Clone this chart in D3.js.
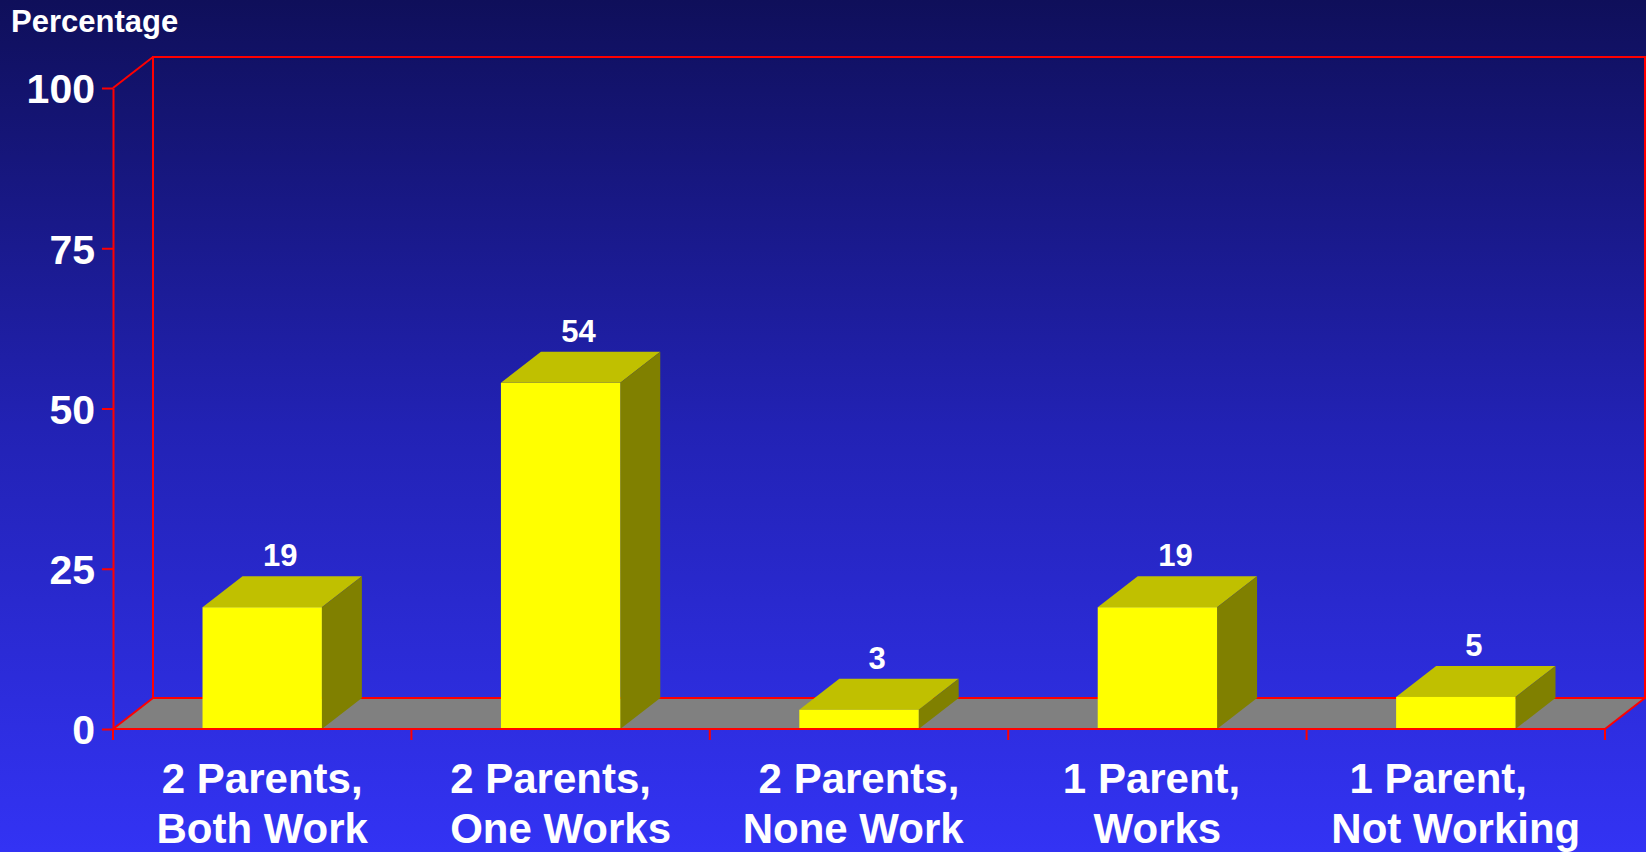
<!DOCTYPE html>
<html>
<head>
<meta charset="utf-8">
<script src="https://cdn.jsdelivr.net/npm/d3@7"></script>
<style>
  html, body { margin: 0; padding: 0; overflow: hidden; background: #1f1fa0; }
  svg { display: block; }
  text { font-family: "Liberation Sans", Arial, Helvetica, sans-serif; font-weight: bold; fill: #ffffff; }
</style>
</head>
<body>
<svg id="chart" width="1646" height="852"></svg>
<script>
// ---- data ----
const categories = [
  "2 Parents,\nBoth Work",
  "2 Parents,\u00a0\u2009\nOne Works",
  "2 Parents,\nNone Work\u00a0",
  "1 Parent,\u00a0\nWorks",
  "1 Parent,\u00a0\u00a0\u00a0\nNot Working"
];
const values = [19, 54, 3, 19, 5];
const yTicks = [0, 25, 50, 75, 100];
const yTitle = "Percentage";

// ---- layout ----
(function () {
const W = 1646, H = 852;
const mLeft = 113, mRight = 1605, mBottom = 729, mTop = 88;
const dx = 40, dy = -31; // depth offset

const svg = d3.select("#chart");

const defs = svg.append("defs");
const grad = defs.append("linearGradient").attr("id", "bg").attr("x1", 0).attr("y1", 0).attr("x2", 0).attr("y2", 1);
grad.append("stop").attr("offset", "0%").attr("stop-color", "#0f0f5a");
grad.append("stop").attr("offset", "50%").attr("stop-color", "#2222b4");
grad.append("stop").attr("offset", "100%").attr("stop-color", "#3333f4");
svg.append("rect").attr("width", W).attr("height", H).attr("fill", "url(#bg)");

const x = d3.scaleBand().domain(categories).range([mLeft, mRight]).paddingInner(0.6).paddingOuter(0.3);
const y = d3.scaleLinear().domain([0, 100]).range([mBottom, mTop]);

const red = "#ff0000";
const sw = 2;
const pts = arr => arr.map(p => p.join(",")).join(" ");

// floor
svg.append("polygon")
  .attr("points", pts([[mLeft, y(0)], [mRight, y(0)], [mRight + dx, y(0) + dy], [mLeft + dx, y(0) + dy]]))
  .attr("fill", "#808080");

// back wall
svg.append("rect")
  .attr("x", mLeft + dx).attr("y", y(100) + dy)
  .attr("width", mRight - mLeft).attr("height", y(0) - y(100))
  .attr("fill", "none").attr("stroke", red).attr("stroke-width", sw);

// wall diagonals
[[mLeft, y(100)], [mLeft, y(0)], [mRight, y(0)]].forEach(([a, b]) => {
  svg.append("line").attr("x1", a).attr("y1", b).attr("x2", a + dx).attr("y2", b + dy)
    .attr("stroke", red).attr("stroke-width", sw);
});

// bars
const bw = x.bandwidth();
const bars = svg.append("g").selectAll("g").data(values).join("g");
bars.each(function(v, i) {
  const g = d3.select(this);
  const x0 = x(categories[i]), x1 = x0 + bw;
  const y0 = y(0), yt = y(v);
  g.append("polygon")
    .attr("points", pts([[x0, yt], [x1, yt], [x1 + dx, yt + dy], [x0 + dx, yt + dy]]))
    .attr("fill", "#c0c000");
  g.append("polygon")
    .attr("points", pts([[x1, y0], [x1 + dx, y0 + dy], [x1 + dx, yt + dy], [x1, yt]]))
    .attr("fill", "#808000");
  g.append("rect").attr("x", x0).attr("y", yt).attr("width", bw).attr("height", y0 - yt).attr("fill", "#ffff00");
  g.append("text")
    .attr("x", x0 + bw / 2 + dx / 2 - 2)
    .attr("y", yt + dy - 10)
    .attr("text-anchor", "middle")
    .attr("font-size", 31)
    .text(v);
});

// front baseline
svg.append("line").attr("x1", mLeft).attr("y1", y(0)).attr("x2", mRight).attr("y2", y(0))
  .attr("stroke", red).attr("stroke-width", sw);

// y axis
const yAxis = d3.axisLeft(y).tickValues(yTicks).tickSize(11).tickSizeOuter(0).tickPadding(7);
const ya = svg.append("g").attr("transform", `translate(${mLeft},0)`).call(yAxis);
ya.select(".domain").attr("stroke", red).attr("stroke-width", sw);
ya.selectAll(".tick line").attr("stroke", red).attr("stroke-width", sw);
ya.selectAll(".tick text")
  .attr("font-size", 41).attr("fill", "#ffffff")
  .attr("font-family", "'Liberation Sans', Arial, sans-serif").attr("font-weight", "bold")
  .attr("dy", "0.36em");

// category boundary ticks
const bounds = categories.map(c => x(c) - x.step() * x.paddingOuter()).concat([mRight]);
svg.append("g").selectAll("line").data(bounds).join("line")
  .attr("x1", d => d).attr("x2", d => d).attr("y1", y(0)).attr("y2", y(0) + 11)
  .attr("stroke", red).attr("stroke-width", sw);

// category labels
const xAxis = d3.axisBottom(x).tickSize(0).tickFormat("");
const xa = svg.append("g").attr("transform", `translate(0,${y(0)})`).call(xAxis);
xa.select(".domain").remove();
xa.selectAll(".tick").each(function(c) {
  const t = d3.select(this).append("text")
    .attr("text-anchor", "middle").attr("font-size", 42).attr("fill", "#ffffff")
    .attr("font-family", "'Liberation Sans', Arial, sans-serif").attr("font-weight", "bold")
    .style("white-space", "pre");
  c.split("\n").forEach((line, k) => {
    t.append("tspan").attr("x", 0).attr("y", 64 + k * 50).text(line);
  });
});

// y title
svg.append("text").attr("x", 11).attr("y", 32).attr("font-size", 31).text(yTitle);
})();
</script>
</body>
</html>
